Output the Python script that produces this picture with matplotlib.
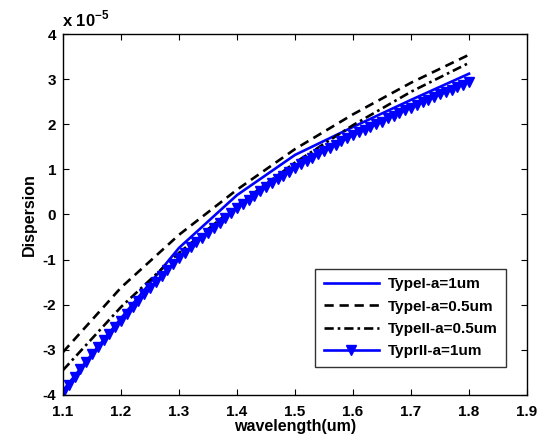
import numpy as np
import matplotlib
matplotlib.use('Agg')
import matplotlib.pyplot as plt

# wavelength (um) and dispersion values (x 1e-5)
wl_coarse = [1.1, 1.2, 1.3, 1.4, 1.5, 1.6, 1.7, 1.8]
type1_a1 = [-3.90, -2.30, -0.74, 0.43, 1.32, 1.94, 2.54, 3.12]
type1_a05 = [-3.05, -1.62, -0.45, 0.55, 1.45, 2.22, 2.92, 3.54]
type2_a05 = [-3.45, -2.05, -0.85, 0.20, 1.15, 1.98, 2.72, 3.36]

wl_fine = np.round(np.arange(1.10, 1.805, 0.01), 2)
type2_a1 = [-3.95, -3.77, -3.60, -3.43, -3.26, -3.10, -2.94, -2.79, -2.64, -2.49,
            -2.35, -2.20, -2.05, -1.91, -1.77, -1.63, -1.49, -1.36, -1.23, -1.10,
            -0.96, -0.85, -0.73, -0.62, -0.51, -0.40, -0.29, -0.18, -0.07, 0.04,
            0.15, 0.24, 0.33, 0.42, 0.51, 0.60, 0.69, 0.78, 0.86, 0.95,
            1.03, 1.11, 1.18, 1.26, 1.33, 1.40, 1.47, 1.54, 1.62, 1.69,
            1.76, 1.82, 1.88, 1.94, 2.00, 2.06, 2.13, 2.19, 2.25, 2.31,
            2.37, 2.43, 2.49, 2.54, 2.60, 2.66, 2.71, 2.77, 2.83, 2.88, 2.94]

labels = ['TypeI-a=1um', 'TypeI-a=0.5um', 'TypeII-a=0.5um', 'TyprII-a=1um']

plt.rcParams['font.family'] = ['Liberation Sans', 'DejaVu Sans']
plt.rcParams['font.weight'] = 'bold'
plt.rcParams['axes.unicode_minus'] = False
plt.rcParams['mathtext.fontset'] = 'custom'
plt.rcParams['mathtext.bf'] = 'Liberation Sans:bold'
plt.rcParams['mathtext.rm'] = 'Liberation Sans:bold'

fig = plt.figure(figsize=(5.45, 4.44), dpi=100)
ax = fig.add_axes([0.1156, 0.1104, 0.8514, 0.813])

ax.plot(wl_coarse, type1_a1, color='blue', lw=1.9, label=labels[0])
ax.plot(wl_coarse, type1_a05, color='black', lw=1.9, ls=(0, (3.5, 2.2)), label=labels[1])
ax.plot(wl_coarse, type2_a05, color='black', lw=1.9, ls=(0, (3.5, 1.5, 1, 1.5)), label=labels[2])
ax.plot(wl_fine, type2_a1, color='blue', lw=1.9, marker='v', ms=6.5,
        mfc='blue', mec='blue', label=labels[3])

ax.set_xlim(1.1, 1.9)
ax.set_ylim(-4, 4)
ax.set_xticks(np.arange(1.1, 1.91, 0.1))
ax.set_xticklabels(['1.1', '1.2', '1.3', '1.4', '1.5', '1.6', '1.7', '1.8', '1.9'])
ax.set_yticks(range(-4, 5))
ax.tick_params(direction='in', top=True, right=True, length=4, labelsize=11, width=0.8)
ax.tick_params(axis='x', pad=7)
ax.tick_params(axis='y', pad=5)
for lab in ax.get_xticklabels() + ax.get_yticklabels():
    lab.set_fontweight('bold')
for s in ax.spines.values():
    s.set_linewidth(1.0)

ax.set_xlabel('wavelength(um)', fontsize=11.5, fontweight='bold', labelpad=0)
ax.set_ylabel('Dispersion', fontsize=11.5, fontweight='bold', labelpad=4)
fig.text(0.113, 0.94, r'x 10$^{-5}$', fontsize=12, fontweight='bold')

leg = ax.legend(loc='lower right', bbox_to_anchor=(0.955, 0.078), fontsize=11,
                frameon=True, fancybox=False, edgecolor='black', handlelength=3.6,
                borderpad=0.55, labelspacing=0.55, handletextpad=0.6,
                borderaxespad=0)
leg.get_frame().set_linewidth(1.0)
for t in leg.get_texts():
    t.set_fontweight('bold')

fig.savefig('out.png', dpi=100)
